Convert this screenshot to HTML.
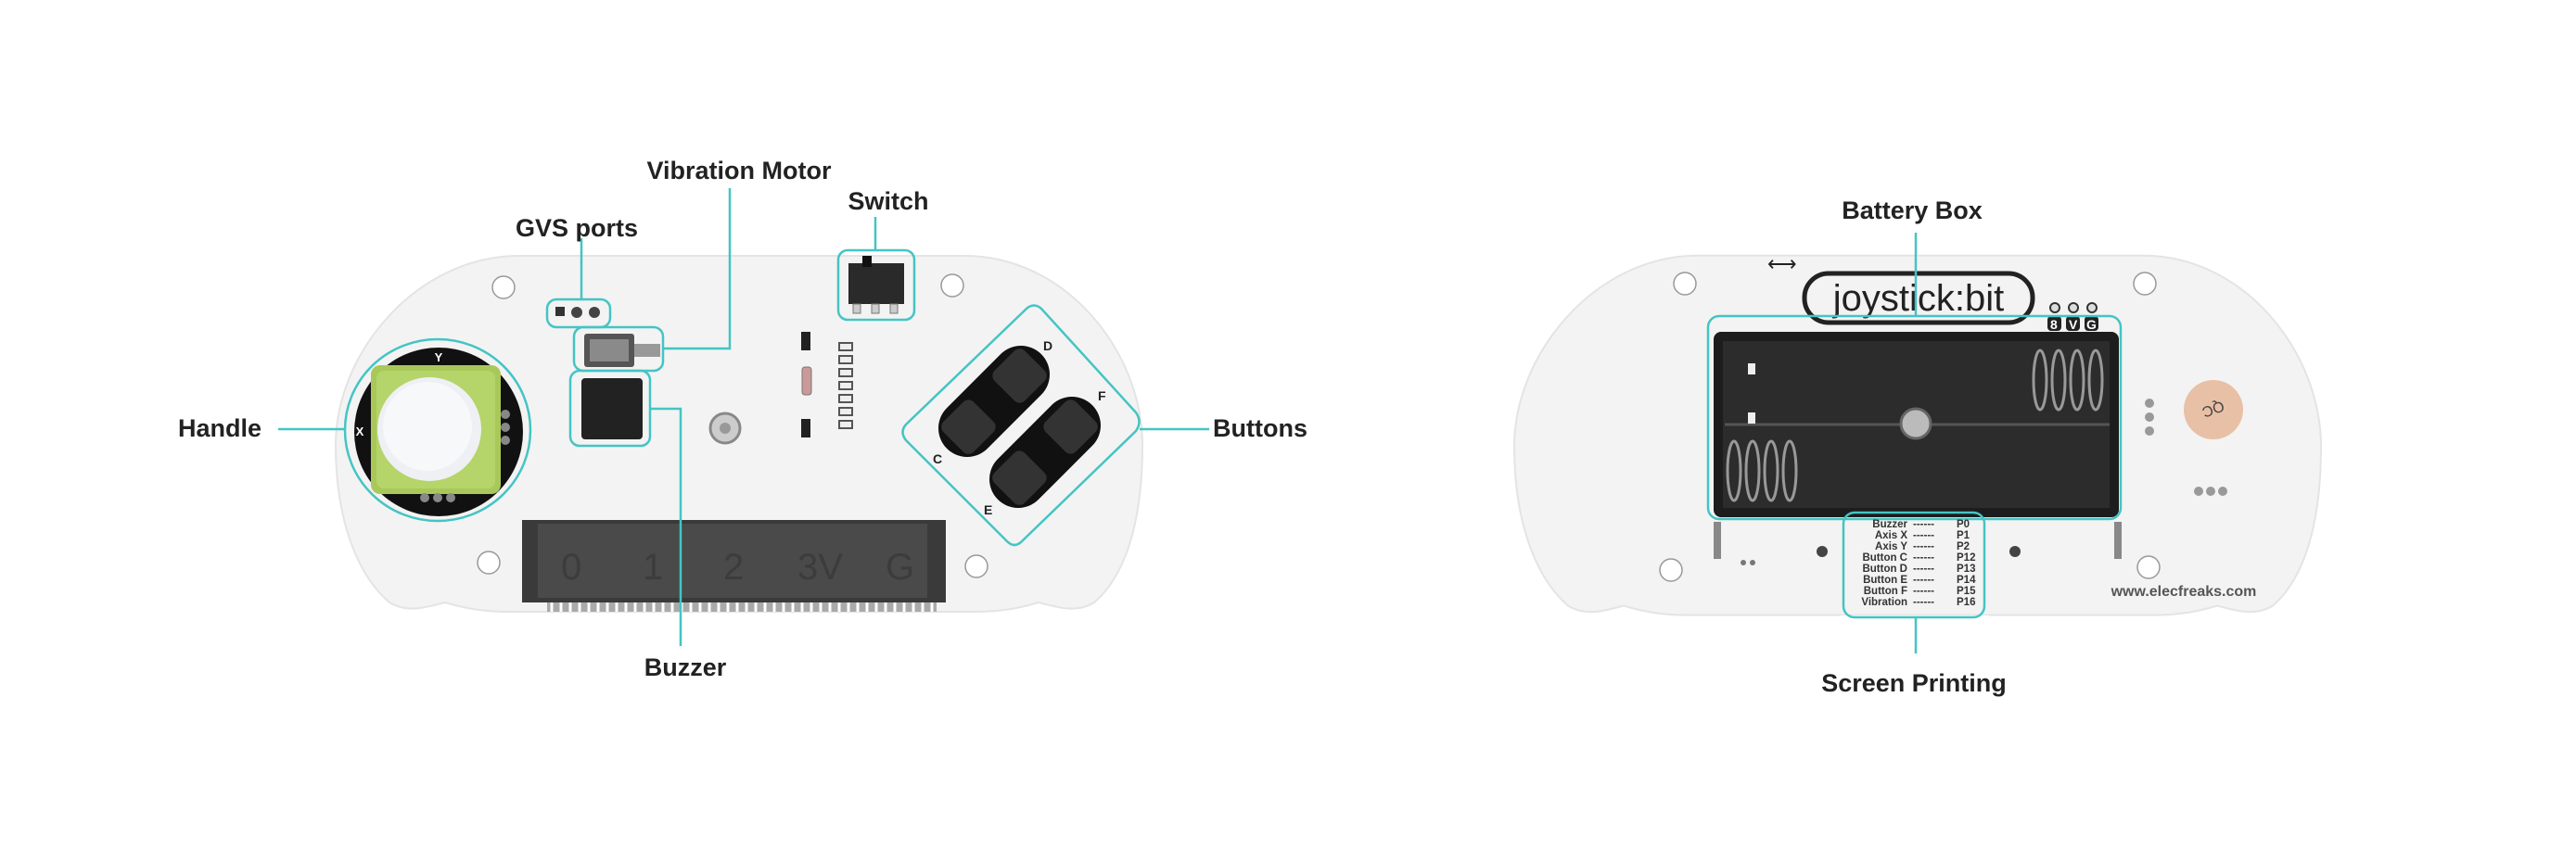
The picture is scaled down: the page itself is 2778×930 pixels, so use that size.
<!DOCTYPE html>
<html><head><meta charset="utf-8"><style>
html,body{margin:0;padding:0;background:#fff;}
svg{display:block}
text{font-family:"Liberation Sans",sans-serif;}
.lbl{font-size:27px;font-weight:bold;fill:#222;text-anchor:middle}
.t{fill:none;stroke:#45c4c4;stroke-width:2.5}
.sp{font-size:11.5px;font-weight:bold;fill:#333}
</style></head><body>
<svg width="2778" height="930" viewBox="0 0 2778 930" xmlns="http://www.w3.org/2000/svg">
<defs>
<path id="board" d="M 560,276 L 1040,276 C 1150,276 1232,380 1232,480 C 1232,560 1215,620 1180,650 C 1160,662 1140,655 1120,650 C 1100,656 1080,660 1050,660 L 550,660 C 520,660 500,656 480,650 C 460,655 440,662 420,650 C 385,620 362,560 362,480 C 362,380 450,276 560,276 Z"/>
</defs>
<rect width="2778" height="930" fill="#fff"/>

<!-- LEFT BOARD -->
<use href="#board" fill="#f3f3f3" stroke="#e4e4e4" stroke-width="2"/>
<g fill="#fff" stroke="#999" stroke-width="1.5">
<circle cx="543" cy="310" r="12"/><circle cx="1027" cy="308" r="12"/>
<circle cx="527" cy="607" r="12"/><circle cx="1053" cy="611" r="12"/>
</g>
<circle cx="473" cy="466" r="91" fill="#111"/>
<rect x="400" y="394" width="140" height="139" rx="10" fill="#a8c95a"/>
<rect x="406" y="400" width="128" height="127" rx="8" fill="#b5d46a"/>
<circle cx="463" cy="463" r="56" fill="#eef0f4"/>
<circle cx="461" cy="460" r="48" fill="#f7f8fa"/>
<text x="473" y="390" font-size="13" font-weight="bold" fill="#fff" text-anchor="middle">Y</text>
<text x="388" y="470" font-size="13" font-weight="bold" fill="#fff" text-anchor="middle">X</text>
<g fill="#888"><circle cx="545" cy="447" r="5"/><circle cx="545" cy="461" r="5"/><circle cx="545" cy="475" r="5"/>
<circle cx="458" cy="537" r="5"/><circle cx="472" cy="537" r="5"/><circle cx="486" cy="537" r="5"/></g>
<ellipse class="t" cx="472" cy="464" rx="100" ry="98"/>
<rect x="599" y="331" width="10" height="10" fill="#333"/>
<circle cx="622" cy="337" r="6" fill="#444"/><circle cx="641" cy="337" r="6" fill="#444"/>
<rect class="t" x="590" y="323" width="68" height="30" rx="10"/>
<rect x="630" y="360" width="54" height="36" rx="3" fill="#555"/>
<rect x="636" y="366" width="42" height="24" fill="#8a8a8a"/>
<rect x="684" y="371" width="28" height="14" fill="#999"/>
<rect class="t" x="619" y="353" width="96" height="47" rx="10"/>
<rect x="627" y="408" width="66" height="66" rx="4" fill="#222"/>
<rect class="t" x="615" y="400" width="86" height="81" rx="10"/>
<rect x="915" y="284" width="60" height="44" fill="#2a2a2a"/>
<rect x="930" y="276" width="10" height="12" fill="#111"/>
<g fill="#ccc" stroke="#777"><rect x="920" y="328" width="8" height="10"/><rect x="940" y="328" width="8" height="10"/><rect x="960" y="328" width="8" height="10"/></g>
<rect class="t" x="904" y="270" width="82" height="75" rx="10"/>
<g fill="#222"><rect x="864" y="358" width="10" height="20"/><rect x="864" y="452" width="10" height="20"/></g>
<g fill="#eee" stroke="#555" stroke-width="2"><rect x="905" y="370" width="14" height="8"/><rect x="905" y="384" width="14" height="8"/><rect x="905" y="398" width="14" height="8"/><rect x="905" y="412" width="14" height="8"/><rect x="905" y="426" width="14" height="8"/><rect x="905" y="440" width="14" height="8"/><rect x="905" y="454" width="14" height="8"/></g>
<rect x="865" y="396" width="10" height="30" rx="3" fill="#c99" stroke="#777"/>
<circle cx="782" cy="462" r="16" fill="#ccc" stroke="#888" stroke-width="3"/>
<circle cx="782" cy="462" r="6" fill="#999"/>
<g transform="translate(1072,433) rotate(-45)"><rect x="-72" y="-31" width="144" height="62" rx="31" fill="#111"/>
<rect x="-62" y="-23" width="46" height="46" rx="8" fill="#333"/><rect x="16" y="-23" width="46" height="46" rx="8" fill="#333"/></g>
<g transform="translate(1127,488) rotate(-45)"><rect x="-72" y="-31" width="144" height="62" rx="31" fill="#111"/>
<rect x="-62" y="-23" width="46" height="46" rx="8" fill="#333"/><rect x="16" y="-23" width="46" height="46" rx="8" fill="#333"/></g>
<g font-size="14" font-weight="bold" fill="#222"><text x="1125" y="378">D</text><text x="1184" y="432">F</text><text x="1006" y="500">C</text><text x="1061" y="555">E</text></g>
<path class="t" d="M 1107,333 Q 1115,326 1123,333 L 1225,445 Q 1232,455 1225,465 L 1102,584 Q 1094,592 1086,584 L 977,475 Q 970,466 977,458 Z"/>
<rect x="563" y="561" width="457" height="89" fill="#3a3a3a"/>
<rect x="580" y="565" width="420" height="80" fill="#4a4a4a"/>
<g font-size="40" fill="#3c3c3c" font-family="Liberation Serif"><text x="605" y="625">0</text><text x="693" y="625">1</text><text x="780" y="625">2</text><text x="860" y="625">3V</text><text x="955" y="625">G</text></g>
<rect x="590" y="650" width="420" height="10" fill="#aaa"/>
<g stroke="#fff" stroke-width="3"><path d="M595 650V660M605 650V660M615 650V660M625 650V660M635 650V660M645 650V660M655 650V660M665 650V660M675 650V660M685 650V660M695 650V660M705 650V660M715 650V660M725 650V660M735 650V660M745 650V660M755 650V660M765 650V660M775 650V660M785 650V660M795 650V660M805 650V660M815 650V660M825 650V660M835 650V660M845 650V660M855 650V660M865 650V660M875 650V660M885 650V660M895 650V660M905 650V660M915 650V660M925 650V660M935 650V660M945 650V660M955 650V660M965 650V660M975 650V660M985 650V660M995 650V660M1005 650V660"/></g>

<path class="t" d="M300,463 H373"/>
<path class="t" d="M627,257 V323"/>
<path class="t" d="M787,203 V376 H715"/>
<path class="t" d="M944,234 V270"/>
<path class="t" d="M701,441 H734 V697"/>
<path class="t" d="M1229,463 H1304"/>
<text class="lbl" x="237" y="471">Handle</text>
<text class="lbl" x="622" y="255">GVS ports</text>
<text class="lbl" x="797" y="193">Vibration Motor</text>
<text class="lbl" x="958" y="226">Switch</text>
<text class="lbl" x="1359" y="471">Buttons</text>
<text class="lbl" x="739" y="729">Buzzer</text>

<!-- RIGHT BOARD -->
<g transform="translate(1271,-3) scale(1,1.01)"><use href="#board" fill="#f3f3f3" stroke="#e4e4e4" stroke-width="2"/></g>
<g fill="#fff" stroke="#999" stroke-width="1.5">
<circle cx="1817" cy="306" r="12"/><circle cx="2313" cy="306" r="12"/>
<circle cx="1802" cy="615" r="12"/><circle cx="2317" cy="612" r="12"/>
</g>
<text x="1906" y="292" font-size="22" fill="#222">⟷</text>
<rect x="1946" y="295" width="246" height="53" rx="26" fill="none" stroke="#222" stroke-width="5"/>
<text x="2069" y="335" font-size="40" fill="#222" text-anchor="middle">joystick:bit</text>
<g fill="#ddd" stroke="#333" stroke-width="2"><circle cx="2216" cy="332" r="5"/><circle cx="2236" cy="332" r="5"/><circle cx="2256" cy="332" r="5"/></g>
<g font-size="14" font-weight="bold" fill="#fff"><rect x="2208" y="341" width="15" height="16" rx="4" fill="#222"/><rect x="2228" y="341" width="15" height="16" rx="4" fill="#222"/><rect x="2248" y="341" width="15" height="16" rx="4" fill="#222"/>
<text x="2211" y="355">8</text><text x="2231" y="355">V</text><text x="2250" y="355">G</text></g>
<rect x="1848" y="358" width="437" height="200" rx="8" fill="#1d1d1d"/>
<rect x="1858" y="368" width="417" height="180" fill="#2c2c2c"/>
<line x1="1860" y1="458" x2="2275" y2="458" stroke="#555" stroke-width="3"/>
<g fill="none" stroke="#999" stroke-width="3">
<ellipse cx="2200" cy="410" rx="7" ry="32"/><ellipse cx="2220" cy="410" rx="7" ry="32"/><ellipse cx="2240" cy="410" rx="7" ry="32"/><ellipse cx="2260" cy="410" rx="7" ry="32"/>
<ellipse cx="1870" cy="508" rx="7" ry="32"/><ellipse cx="1890" cy="508" rx="7" ry="32"/><ellipse cx="1910" cy="508" rx="7" ry="32"/><ellipse cx="1930" cy="508" rx="7" ry="32"/></g>
<rect x="1885" y="392" width="8" height="12" fill="#eee"/><rect x="1885" y="445" width="8" height="12" fill="#eee"/>
<circle cx="2066" cy="457" r="16" fill="#bbb" stroke="#666" stroke-width="3"/>
<rect class="t" x="1842" y="341" width="445" height="219" rx="12"/>
<circle cx="2387" cy="442" r="32" fill="#e8c0a6"/>
<text x="2387" y="448" font-size="16" fill="#444" text-anchor="middle" transform="rotate(160 2387 442)">QC</text>
<g fill="#999"><circle cx="2318" cy="435" r="5"/><circle cx="2318" cy="450" r="5"/><circle cx="2318" cy="465" r="5"/>
<circle cx="2371" cy="530" r="5"/><circle cx="2384" cy="530" r="5"/><circle cx="2397" cy="530" r="5"/></g>
<rect x="1848" y="563" width="8" height="40" fill="#888"/><rect x="2280" y="563" width="8" height="40" fill="#888"/>
<circle cx="1965" cy="595" r="6" fill="#444"/><circle cx="2173" cy="595" r="6" fill="#444"/>
<circle cx="1880" cy="607" r="3" fill="#777"/><circle cx="1890" cy="607" r="3" fill="#777"/>
<text x="2355" y="643" font-size="16" font-weight="bold" fill="#555" text-anchor="middle">www.elecfreaks.com</text>
<g class="sp">
<text x="2057" y="569" text-anchor="end">Buzzer</text><text x="2063" y="569">------</text><text x="2110" y="569">P0</text>
<text x="2057" y="581" text-anchor="end">Axis X</text><text x="2063" y="581">------</text><text x="2110" y="581">P1</text>
<text x="2057" y="593" text-anchor="end">Axis Y</text><text x="2063" y="593">------</text><text x="2110" y="593">P2</text>
<text x="2057" y="605" text-anchor="end">Button C</text><text x="2063" y="605">------</text><text x="2110" y="605">P12</text>
<text x="2057" y="617" text-anchor="end">Button D</text><text x="2063" y="617">------</text><text x="2110" y="617">P13</text>
<text x="2057" y="629" text-anchor="end">Button E</text><text x="2063" y="629">------</text><text x="2110" y="629">P14</text>
<text x="2057" y="641" text-anchor="end">Button F</text><text x="2063" y="641">------</text><text x="2110" y="641">P15</text>
<text x="2057" y="653" text-anchor="end">Vibration</text><text x="2063" y="653">------</text><text x="2110" y="653">P16</text>
</g>
<rect x="1985" y="664" width="160" height="10" fill="#fff"/>
<rect class="t" x="1988" y="553" width="152" height="113" rx="12"/>
<path class="t" d="M2066,251 V341"/>
<path class="t" d="M2066,666 V705"/>
<text class="lbl" x="2062" y="236">Battery Box</text>
<text class="lbl" x="2064" y="746">Screen Printing</text>
</svg>
</body></html>
